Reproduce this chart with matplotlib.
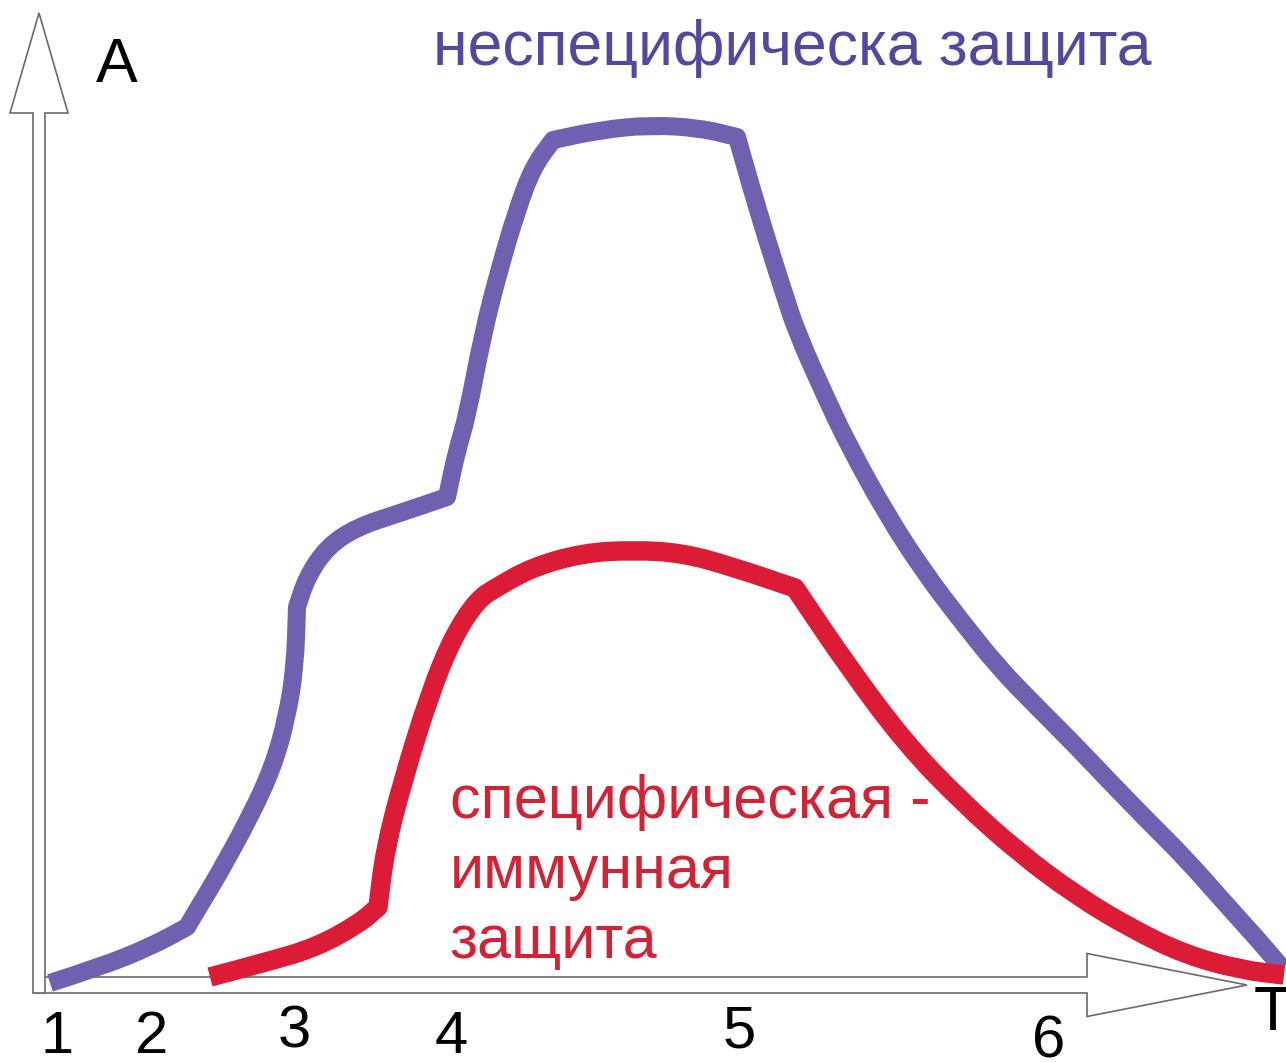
import matplotlib
matplotlib.use('Agg')
import matplotlib.pyplot as plt
from matplotlib.patches import FancyArrow, PathPatch
from matplotlib.path import Path

plt.rcParams['font.family'] = ['Liberation Sans', 'DejaVu Sans']

# time (arbitrary units) and activity A for the nonspecific defence curve
nonspec_t = [0.10, 0.60, 1.10, 1.47, 1.63, 1.77, 2.10, 2.33, 2.47, 2.55, 2.57, 2.67,
             2.87, 3.17, 3.60, 4.07, 4.17, 4.27, 4.43, 4.60, 4.77, 4.93, 5.13, 5.60,
             6.10, 6.60, 6.97, 7.10, 7.27, 7.43, 7.57, 7.87, 8.09, 8.47, 8.84, 9.22,
             9.59, 9.96, 10.34, 10.71, 11.08, 11.46, 11.83, 12.21, 12.42]
nonspec_a = [0.02, 0.18, 0.38, 0.58, 0.85, 1.08, 1.68, 2.18, 2.68, 3.18, 3.78, 4.08,
             4.38, 4.58, 4.72, 4.88, 5.35, 5.68, 6.52, 7.18, 7.75, 8.18, 8.45, 8.55,
             8.60, 8.57, 8.48, 8.02, 7.45, 6.95, 6.52, 5.85, 5.39, 4.70, 4.13, 3.63,
             3.17, 2.79, 2.41, 2.02, 1.64, 1.26, 0.84, 0.42, 0.17]
nonspec_kinks = [3, 10, 15, 22, 26]

# specific immune defence curve
spec_t = [1.70, 2.27, 2.77, 3.20, 3.38, 3.45, 3.63, 3.90, 4.13, 4.37, 4.57, 4.93,
          5.43, 5.93, 6.43, 6.93, 7.55, 8.09, 8.66, 9.22, 9.78, 10.34, 10.90, 11.46,
          12.02, 12.44]
spec_a = [0.08, 0.23, 0.38, 0.62, 0.78, 1.35, 2.05, 2.92, 3.48, 3.85, 3.98, 4.18,
          4.32, 4.35, 4.32, 4.18, 3.97, 3.17, 2.41, 1.83, 1.33, 0.91, 0.57, 0.30,
          0.15, 0.10]
spec_kinks = [4, 16]

period_labels = ['1', '2', '3', '4', '5', '6']
period_t = [0.17, 1.12, 2.54, 4.11, 6.99, 10.09]
period_base = [-0.68, -0.68, -0.63, -0.68, -0.62, -0.72]

nonspec_label = 'неспецифическа защита'
spec_label = ['специфическая -', 'иммунная', 'защита']

purple = '#7160b0'
purple_text = '#54479e'
red = '#dc1c36'
red_text = '#d42235'


def hand_drawn_path(xs, ys, kinks):
    """Smooth curve through midpoints, keeping the drawn kinks sharp"""
    pts = list(zip(xs, ys))
    verts = [pts[0]]
    codes = [Path.MOVETO]
    for i in range(1, len(pts) - 1):
        mid = ((pts[i][0] + pts[i + 1][0]) / 2, (pts[i][1] + pts[i + 1][1]) / 2)
        if i in kinks:
            verts += [pts[i], mid]
            codes += [Path.LINETO, Path.LINETO]
        else:
            verts += [pts[i], mid]
            codes += [Path.CURVE3, Path.CURVE3]
    verts.append(pts[-1])
    codes.append(Path.LINETO)
    return Path(verts, codes)


fig = plt.figure(figsize=(12.86, 10.62), dpi=100)
ax = fig.add_axes([0, 0, 1, 1])
ax.set_xlim(-0.40, 12.46)
ax.set_ylim(-0.77, 9.85)
ax.set_aspect('equal')
ax.axis('off')

# hollow axis arrows
arrow_style = dict(facecolor='white', edgecolor='#6a6a6a', linewidth=1.2,
                   length_includes_head=True, zorder=1)
ax.add_patch(FancyArrow(-0.05, 0.0, 12.12, 0.0, width=0.16, head_width=0.63,
                        head_length=1.60, **arrow_style))
ax.add_patch(FancyArrow(-0.01, -0.08, 0.0, 9.80, width=0.12, head_width=0.58,
                        head_length=1.00, **arrow_style))

ax.add_patch(PathPatch(hand_drawn_path(nonspec_t, nonspec_a, nonspec_kinks),
                       fill=False, edgecolor=purple, lw=13, capstyle='butt',
                       joinstyle='round', zorder=3))
ax.add_patch(PathPatch(hand_drawn_path(spec_t, spec_a, spec_kinks),
                       fill=False, edgecolor=red, lw=14, capstyle='butt',
                       joinstyle='round', zorder=4))

ax.text(0.77, 9.03, 'A', fontsize=45, ha='center', va='baseline')
ax.text(12.33, -0.45, 'T', fontsize=45, ha='center', va='baseline')
for lab, t, b in zip(period_labels, period_t, period_base):
    ax.text(t, b, lab, fontsize=43, ha='center', va='baseline')

ax.text(3.93, 9.20, nonspec_label, fontsize=45, color=purple_text,
        ha='left', va='baseline')
for i, line in enumerate(spec_label):
    ax.text(4.10, 1.67 - i * 0.70, line, fontsize=44, color=red_text,
            ha='left', va='baseline')

fig.savefig('out.png', dpi=100, facecolor='white')
